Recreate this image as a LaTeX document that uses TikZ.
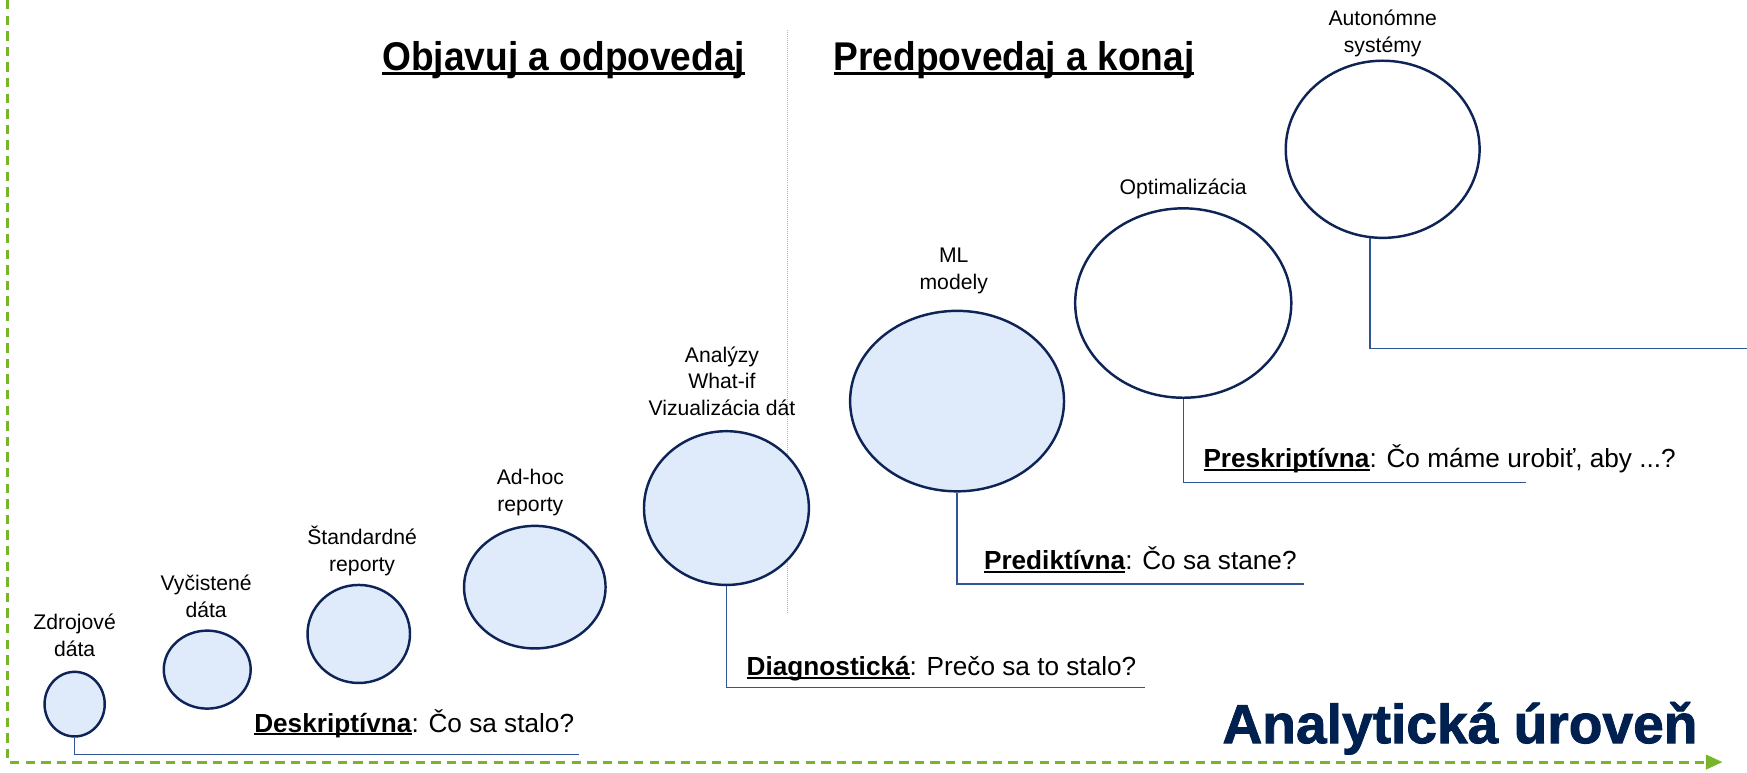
\documentclass[tikz,border=0pt]{standalone}
\usepackage{fontspec}
\setmainfont{Liberation Sans}
\newfontfamily\titlefont[FakeStretch=0.925]{Liberation Sans Bold}
\newfontfamily\bigfont[FakeBold=1.5]{Liberation Sans Bold}
\usetikzlibrary{shapes.geometric,arrows.meta}
\definecolor{navy}{HTML}{0E2356}
\definecolor{bubblefill}{HTML}{DFEBFA}
\definecolor{leaderc}{HTML}{2F5597}
\definecolor{grn}{HTML}{78B52B}
\definecolor{titleblue}{HTML}{002050}
\newcommand\myul[3]{\setbox0=\hbox{#3}\rlap{\rule[-#1]{\wd0}{#2}}\box0}
\tikzset{
  bubble/.style={ellipse, draw=navy, line width=2.2pt, fill=bubblefill, inner sep=0pt},
  emptybubble/.style={bubble, fill=white},
  lbl/.style={align=center, font=\fontsize{19}{24}\selectfont, anchor=base, inner sep=0pt},
  qtext/.style={anchor=base west, inner sep=0pt, font=\fontsize{23.5}{28}\selectfont},
  leader/.style={draw=leaderc, line width=1.3pt},
  ttl/.style={anchor=base west, inner sep=0pt, font=\fontsize{36}{40}\titlefont},
  border/.style={draw=grn, line width=2.6pt, dash pattern=on 8.5pt off 5.5pt}
}
\begin{document}
\begin{tikzpicture}[x=1pt,y=-1pt]
\useasboundingbox (0,0) rectangle (1568,693);
% green frame with arrow
\coordinate (ftop) at (7,0);
\coordinate (fcorner) at (7,684);
\coordinate (fend) at (1546,684);
\draw[border, -{Triangle[length=15pt,width=13pt]}] (ftop) -- (fcorner) -- (fend);
% vertical divider
\coordinate (dtop) at (707,27);
\coordinate (dbot) at (707,550);
\draw[draw=grn!70, line width=0.8pt, densely dotted] (dtop) -- (dbot);
% titles
\node[ttl] (t1) at (343,63) {\myul{0.11em}{0.07em}{Objavuj a odpovedaj}};
\node[ttl] (t2) at (748,63) {\myul{0.11em}{0.07em}{Predpovedaj a konaj}};
% bubbles
\node[bubble, minimum width=54pt, minimum height=58pt] (c1) at (67,632) {};
\node[bubble, minimum width=78pt, minimum height=70pt] (c2) at (186,601) {};
\node[bubble, minimum width=92pt, minimum height=88pt] (c3) at (322,569) {};
\node[bubble, minimum width=127pt, minimum height=110pt] (c4) at (480,527) {};
\node[bubble, minimum width=148pt, minimum height=138pt] (c5) at (652,456) {};
\node[bubble, minimum width=192pt, minimum height=162pt] (c6) at (859,360) {};
\node[emptybubble, minimum width=194pt, minimum height=170pt] (c7) at (1062,272) {};
\node[emptybubble, minimum width=174pt, minimum height=159pt] (c8) at (1241,134) {};
% bubble labels (base = baseline of last line)
\node[lbl] (l1) at (67,589) {Zdrojové\\dáta};
\node[lbl] (l2) at (185,554) {Vyčistené\\dáta};
\node[lbl] (l3) at (325,513) {Štandardné\\reporty};
\node[lbl] (l4) at (476,459) {Ad-hoc\\reporty};
\node[lbl] (l5) at (648,373) {Analýzy\\What-if\\Vizualizácia dát};
\node[lbl] (l6) at (856,260) {ML\\modely};
\node[lbl] (l7) at (1062,175) {Optimalizácia};
\node[lbl] (l8) at (1241,47) {Autonómne\\systémy};
% leader lines
\coordinate (e1) at (520,677);
\coordinate (e2) at (1028,617);
\coordinate (e3) at (1170,524);
\coordinate (e4) at (1370,433);
\coordinate (e5) at (1568,313);
\draw[leader] (c1.south) |- (e1);
\draw[leader] (c5.south) |- (e2);
\draw[leader] (c6.south) |- (e3);
\draw[leader] (c7.south) |- (e4);
\draw[leader] (c8.-98) |- (e5);
% question labels
\node[qtext] (q1) at (228,657) {\myul{0.13em}{0.075em}{\textbf{Deskriptívna}}: Čo sa stalo?};
\node[qtext] (q2) at (670,606) {\myul{0.13em}{0.075em}{\textbf{Diagnostická}}: Prečo sa to stalo?};
\node[qtext] (q3) at (883,511) {\myul{0.13em}{0.075em}{\textbf{Prediktívna}}: Čo sa stane?};
\node[qtext] (q4) at (1080,420) {\myul{0.13em}{0.075em}{\textbf{Preskriptívna}}: Čo máme urobiť, aby ...?};
% big label
\node[anchor=base west, inner sep=0pt, text=titleblue, font=\fontsize{49.5}{54}\bigfont] (big) at (1097,667) {Analytická úroveň};
\end{tikzpicture}
\end{document}
